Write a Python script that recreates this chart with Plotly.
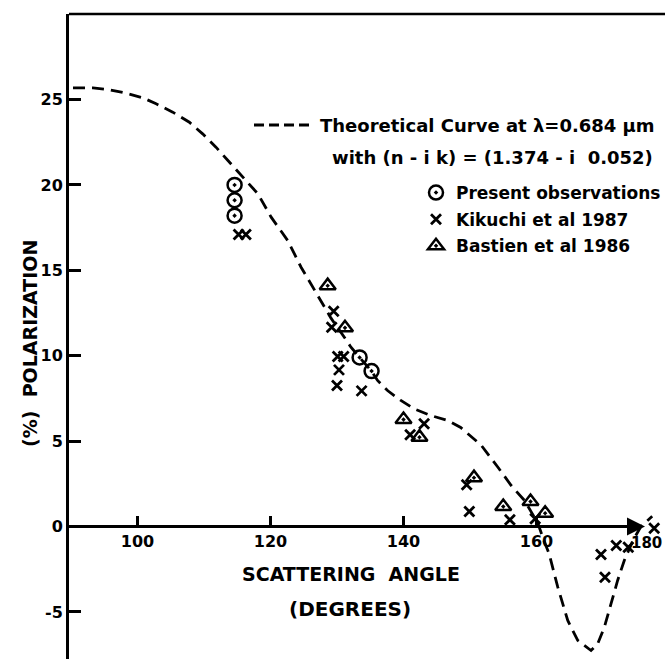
import plotly.graph_objects as go

# ---------------- data ----------------
theory_angle = [90.3, 93.3, 95.8, 98.3, 100.8, 102.8, 105.3, 107.8, 109.8, 111.8,
                113.6, 115.6, 118.1, 120.1, 122.6, 124.6, 126.1, 127.6, 129.1, 131.1,
                132.1, 133.5, 135.2, 136.1, 137.6, 139.6, 141.6, 144.1, 146.6, 148.6,
                151.7, 154.2, 156.2, 158.2, 160.2, 161.0, 161.9, 163.2, 164.7, 166.2,
                168.2, 169.2, 170.2, 171.2, 172.2, 173.2, 174.5, 175.7, 177.4]
theory_pol = [25.68, 25.68, 25.57, 25.37, 25.10, 24.75, 24.26, 23.67, 22.99, 22.21,
              21.43, 20.55, 19.48, 18.11, 16.74, 15.18, 14.2, 13.2, 12.2, 11.08,
              10.5, 9.85, 9.1, 8.55, 7.96, 7.38, 6.89, 6.5, 6.21, 5.8,
              4.75, 3.47, 2.40, 1.52, 0.2, -0.7, -1.6, -3.55, -5.5, -6.67,
              -7.26, -6.87, -5.9, -4.53, -3.16, -1.99, -0.82, 0.0, 0.6]

present_angle = [114.6, 114.6, 114.6, 133.4, 135.2]
present_pol = [20.0, 19.1, 18.2, 9.9, 9.1]

kikuchi_angle = [115.2, 116.3, 129.5, 129.2, 130.1, 131.0, 130.3, 130.0, 133.7,
                 141.0, 143.1, 149.5, 149.9, 156.0, 159.8, 169.7, 170.3, 172.0,
                 173.8, 177.7]
kikuchi_pol = [17.1, 17.1, 12.6, 11.67, 9.95, 9.95, 9.17, 8.26, 7.94,
               5.37, 6.01, 2.44, 0.88, 0.39, 0.45, -1.64, -2.97, -1.11,
               -1.21, -0.1]

bastien_angle = [128.6, 131.2, 140.0, 142.4, 150.6, 155.0, 159.1, 161.3]
bastien_pol = [14.1, 11.63, 6.26, 5.23, 2.86, 1.17, 1.46, 0.78]

x_tick_vals = [100, 120, 140, 160]
x_tick_text = ["100", "120", "140", "160"]
x_last_label = "180"
y_tick_vals = [-5, 0, 5, 10, 15, 20, 25]
y_tick_text = ["-5", "0", "5", "10", "15", "20", "25"]

legend_names = ["Present observations", "Kikuchi et al 1987", "Bastien et al 1986"]
theory_line1 = "Theoretical Curve at λ=0.684 μm"
theory_line2 = "with (n - i k) = (1.374 - i  0.052)"
x_title1 = "SCATTERING  ANGLE"
x_title2 = "(DEGREES)"
y_title = "(%)  POLARIZATION"

# ---------------- layout geometry ----------------
W, H = 665, 659
ML, MR, MT, MB = 69, 0, 14, 0
PX_PER_DEG = 6.65
PX_PER_UNIT = 17.08
X_RANGE = [89.7, 89.7 + (W - ML - MR) / PX_PER_DEG]
Y_RANGE = [-(H - MB - 526.5) / PX_PER_UNIT, (526.5 - MT) / PX_PER_UNIT]
FONT = "DejaVu Sans"


def px_x(p):
    return (p - ML) / (W - ML - MR)


def px_y(p):
    return 1 - (p - MT) / (H - MT - MB)


fig = go.Figure()

fig.add_trace(go.Scatter(
    x=theory_angle, y=theory_pol, mode="lines",
    line=dict(color="black", width=2.8, dash="12px,7px"),
    showlegend=False, hoverinfo="skip"))

fig.add_trace(go.Scatter(
    x=present_angle, y=present_pol, mode="markers", name=legend_names[0],
    legendgroup="a",
    marker=dict(symbol="circle-open-dot", size=14, color="black",
                line=dict(width=2.5, color="black"))))
fig.add_trace(go.Scatter(
    x=kikuchi_angle, y=kikuchi_pol, mode="markers", name=legend_names[1],
    legendgroup="b",
    marker=dict(symbol="x-thin-open", size=10, color="black",
                line=dict(width=2.8, color="black"))))
fig.add_trace(go.Scatter(
    x=bastien_angle, y=bastien_pol, mode="markers", name=legend_names[2],
    legendgroup="c",
    marker=dict(symbol="triangle-up-open-dot", size=14, color="black",
                line=dict(width=2.5, color="black"))))

x_axis_pos = (0 - Y_RANGE[0]) / (Y_RANGE[1] - Y_RANGE[0])
arrow_tip = 89.7 + (645 - ML) / PX_PER_DEG

fig.update_layout(
    width=W, height=H,
    margin=dict(l=ML, r=MR, t=MT, b=MB, autoexpand=False),
    paper_bgcolor="white", plot_bgcolor="white",
    font=dict(family=FONT, color="black"),
    xaxis=dict(range=X_RANGE, anchor="free", position=x_axis_pos,
               showline=False, showgrid=False, zeroline=False,
               ticks="inside", ticklen=11, tickwidth=2.5, tickcolor="black",
               tickvals=x_tick_vals, ticktext=x_tick_text, ticklabelstandoff=3,
               tickfont=dict(family=FONT, size=16, color="black", weight="bold")),
    yaxis=dict(range=Y_RANGE, showline=True, linewidth=3, linecolor="black",
               showgrid=False, zeroline=False,
               ticks="inside", ticklen=12, tickwidth=2.5, tickcolor="black",
               tickvals=y_tick_vals, ticktext=y_tick_text,
               tickfont=dict(family=FONT, size=16, color="black", weight="bold")),
    legend=dict(x=px_x(416), y=px_y(175), xanchor="left", yanchor="top",
                bgcolor="rgba(0,0,0,0)", borderwidth=0,
                traceorder="grouped", tracegroupgap=1.5,
                font=dict(family=FONT, size=17, color="black", weight="bold")),
    showlegend=True,
)

# frame top line
fig.add_shape(type="line", xref="paper", yref="paper", x0=0, x1=1, y0=1, y1=1,
              line=dict(color="black", width=2.5))
# horizontal axis line with arrow
fig.add_shape(type="line", xref="x", yref="y", x0=X_RANGE[0], x1=arrow_tip - 1.0,
              y0=0, y1=0, line=dict(color="black", width=3))
fig.add_annotation(x=arrow_tip, y=0, ax=arrow_tip - 3, ay=0, axref="x", ayref="y",
                   xref="x", yref="y", text="", showarrow=True,
                   arrowhead=2, arrowsize=1.2, arrowwidth=3, arrowcolor="black")
fig.add_annotation(x=px_x(664), y=px_y(532), xref="paper", yref="paper",
                   text=x_last_label, showarrow=False,
                   xanchor="right", yanchor="top",
                   font=dict(family=FONT, size=15, color="black", weight="bold"))

# legend for theoretical curve
fig.add_shape(type="line", xref="paper", yref="paper", x0=px_x(254), x1=px_x(310),
              y0=px_y(125), y1=px_y(125),
              line=dict(color="black", width=3, dash="10px,5px"))
fig.add_annotation(x=px_x(657), y=px_y(125), xref="paper", yref="paper",
                   text=theory_line1, showarrow=False, xanchor="right", yanchor="middle",
                   font=dict(family=FONT, size=18, color="black", weight="bold"))
fig.add_annotation(x=px_x(655), y=px_y(157), xref="paper", yref="paper",
                   text=theory_line2, showarrow=False, xanchor="right", yanchor="middle",
                   font=dict(family=FONT, size=18, color="black", weight="bold"))

# axis titles
fig.add_annotation(x=px_x(351), y=px_y(574), xref="paper", yref="paper",
                   text=x_title1, showarrow=False, xanchor="center", yanchor="middle",
                   font=dict(family=FONT, size=19, color="black", weight="bold"))
fig.add_annotation(x=px_x(350), y=px_y(609), xref="paper", yref="paper",
                   text=x_title2, showarrow=False, xanchor="center", yanchor="middle",
                   font=dict(family=FONT, size=20, color="black", weight="bold"))
fig.add_annotation(x=px_x(30), y=px_y(344), xref="paper", yref="paper",
                   text=y_title, showarrow=False, textangle=-90,
                   xanchor="center", yanchor="middle",
                   font=dict(family=FONT, size=19, color="black", weight="bold"))

fig.write_html("out.html")
